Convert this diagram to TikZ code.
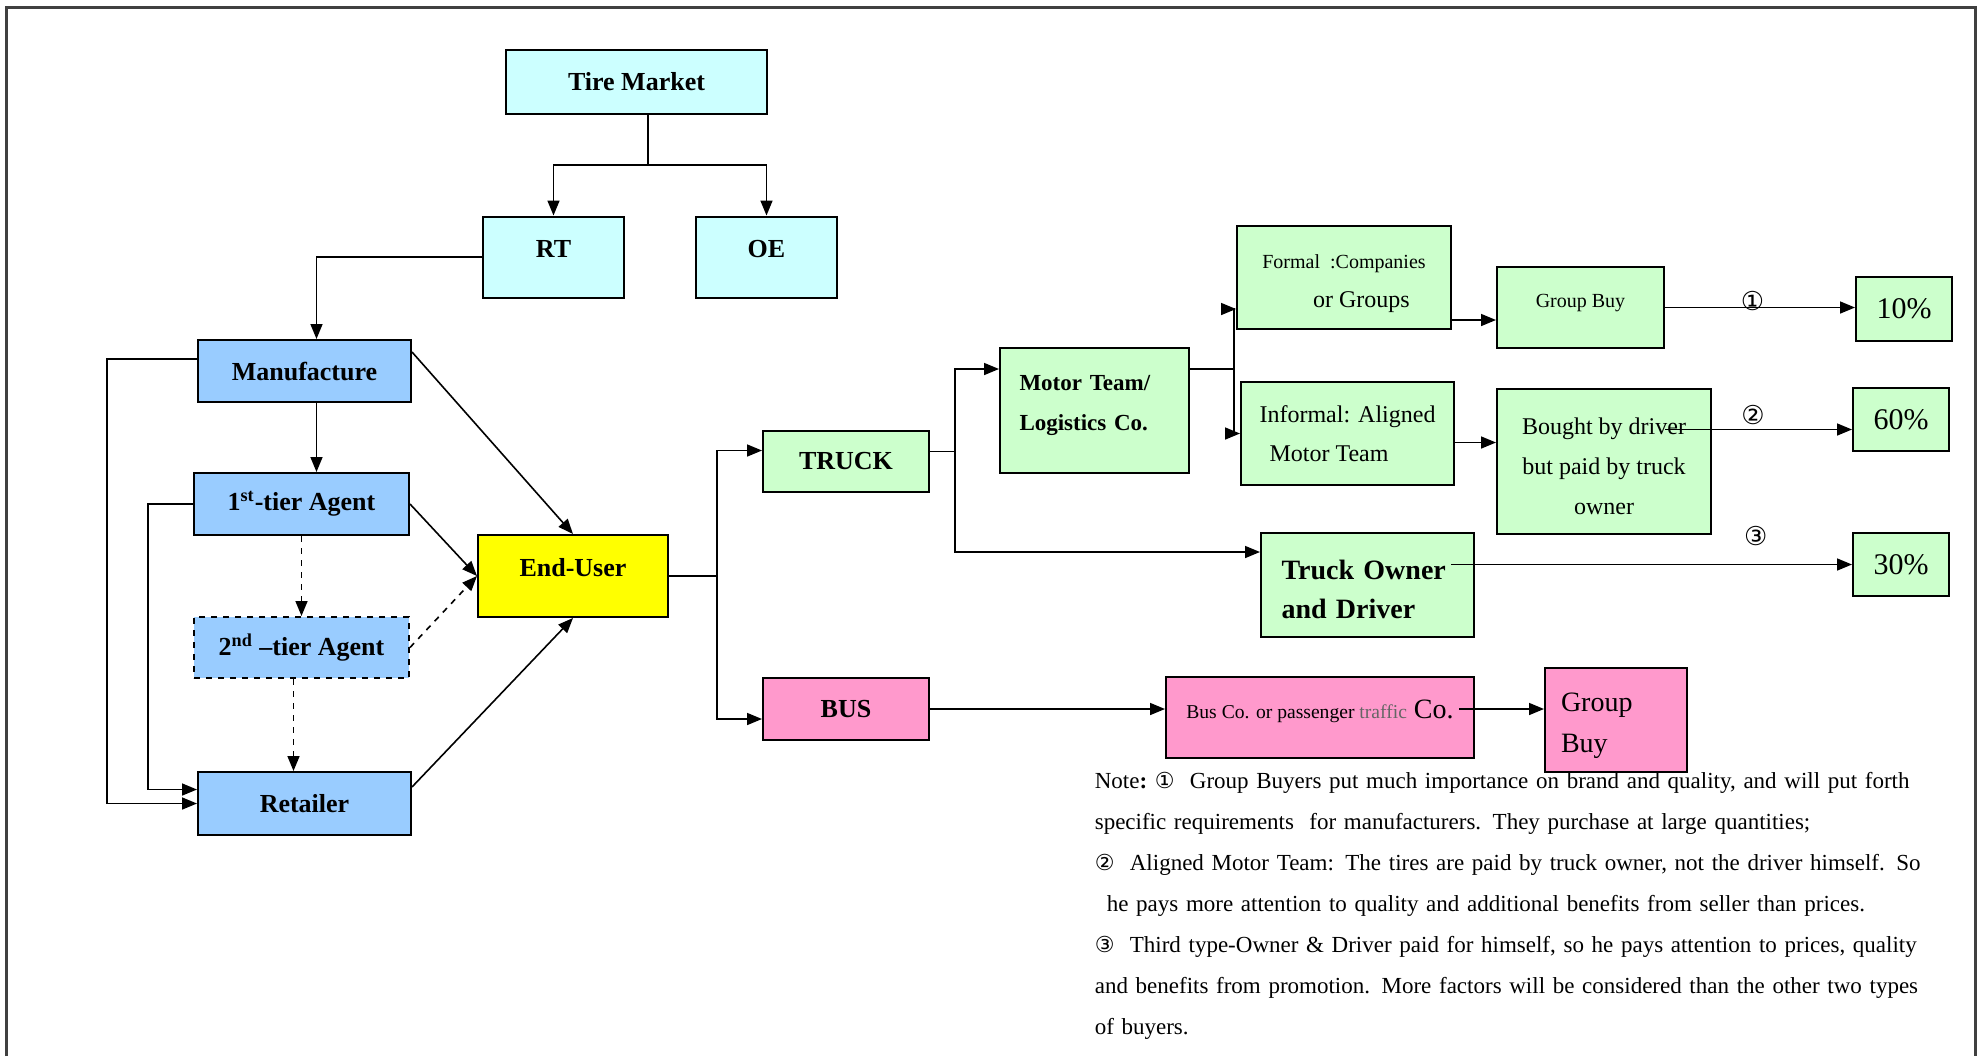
\documentclass[tikz,border=0pt]{standalone}
\usepackage{fontspec}
\setmainfont{Liberation Serif}
\newfontfamily\circfont{DejaVu Sans}
\usetikzlibrary{arrows.meta,calc}

\definecolor{marketcyan}{HTML}{CCFFFF}
\definecolor{chainblue}{HTML}{99CCFF}
\definecolor{useryellow}{HTML}{FFFF00}
\definecolor{truckgreen}{HTML}{CCFFCC}
\definecolor{buspink}{HTML}{FF99CC}
\definecolor{framegray}{HTML}{404040}

\newcommand{\fullline}[2][418.5pt]{\makebox[#1][s]{#2}}
\newcommand{\circnum}[1]{{\circfont\fontsize{11}{12}\selectfont #1}}

\begin{document}
\begin{tikzpicture}[x=0.5pt, y=-0.5pt, line width=0.8pt,
    >={Triangle[length=7.5pt,width=6pt]},
    box/.style={draw, rectangle, inner sep=0pt, line width=1pt},
    boldtext/.style={font=\fontsize{13}{15}\selectfont\bfseries},
    cyanbox/.style={box, boldtext, fill=marketcyan},
    bluebox/.style={box, boldtext, fill=chainblue},
    userbox/.style={box, boldtext, fill=useryellow},
    greenbox/.style={box, fill=truckgreen},
    pinkbox/.style={box, fill=buspink},
    raised/.style={text height=9pt, text depth=9pt},
    sharebox/.style={greenbox, font=\fontsize{15}{17}\selectfont,
        minimum width=48pt, minimum height=31.5pt},
    numlabel/.style={font=\circfont\fontsize{13}{15}\selectfont, inner sep=1pt},
    notetext/.style={font=\fontsize{11.5}{20.5}\selectfont, text width=418.5pt,
        align=left, inner sep=0pt}]

\useasboundingbox (0,0) rectangle (1977,1056);
% page frame
\draw[line width=1.5pt, framegray] (6,1056) -- (6,7) -- (1975,7) -- (1975,1056);

% market
\node[cyanbox, minimum width=130.5pt, minimum height=32pt] (market) at (636.5,82) {Tire Market};
\node[cyanbox, raised, minimum width=70.5pt, minimum height=40.5pt] (rt) at (553.5,257) {RT};
\node[cyanbox, raised, minimum width=70.5pt, minimum height=40.5pt] (oe) at (766.5,257) {OE};

% channel
\node[bluebox, minimum width=106.5pt, minimum height=31pt] (manu) at (304.5,371) {Manufacture};
\node[bluebox, minimum width=107.5pt, minimum height=31pt] (first) at (301.5,504)
    {1\textsuperscript{st}-tier Agent};
\node[bluebox, dashed, minimum width=107.5pt, minimum height=30.5pt] (second) at (301.5,647.5)
    {2\textsuperscript{nd} --tier Agent};
\node[bluebox, minimum width=106.5pt, minimum height=31.5pt] (retailer) at (304.5,803.5) {Retailer};
\node[userbox, raised, minimum width=95pt, minimum height=41pt] (eu) at (573,576) {End-User};

% truck side
\node[greenbox, boldtext, minimum width=83pt, minimum height=30.5pt] (truck) at (846,461.5) {TRUCK};
\node[greenbox, font=\fontsize{11.5}{20}\selectfont\bfseries, text width=75pt, align=left,
    minimum width=94.5pt, minimum height=62.5pt] (motor) at (1094.5,410.5)
    {Motor Team/\\Logistics Co.\rule[-8pt]{0pt}{8pt}};
\node[greenbox, font=\fontsize{12}{19.5}\selectfont, align=right,
    minimum width=107pt, minimum height=51.5pt] (formal) at (1344,277.5)
    {\rule{0pt}{13pt}{\fontsize{10}{19.5}\selectfont Formal\ \ :Companies}\\or Groups\hspace*{8pt}};
\node[greenbox, font=\fontsize{12}{19.5}\selectfont, align=left,
    minimum width=106.5pt, minimum height=51.5pt] (informal) at (1347.5,433.5)
    {Informal: Aligned\\\hspace*{5pt}Motor Team};
\node[greenbox, font=\fontsize{10}{12}\selectfont, text height=7pt, text depth=7.5pt,
    minimum width=83.5pt, minimum height=40.5pt] (gbuy) at (1580.5,307.5) {Group Buy};
\node[greenbox, font=\fontsize{12}{20}\selectfont, align=center,
    minimum width=107pt, minimum height=72.5pt] (bought) at (1604,461.5)
    {\rule{0pt}{13.5pt}Bought by driver\\but paid by truck\\owner};
\node[greenbox, font=\fontsize{14}{19.5}\selectfont\bfseries, text width=86pt, align=left,
    minimum width=106.5pt, minimum height=52pt] (towner) at (1367.5,585)
    {\rule{0pt}{14.6pt}\fullline[86pt]{Truck Owner}\\and Driver};
\node[sharebox, minimum height=32pt] (p10) at (1904,309) {10\%};
\node[sharebox] (p60) at (1901,419.5) {60\%};
\node[sharebox] (p30) at (1901,564.5) {30\%};

% bus side
\node[pinkbox, boldtext, minimum width=83pt, minimum height=31pt] (bus) at (846,709) {BUS};
\node[pinkbox, font=\fontsize{14}{16}\selectfont, text depth=8pt,
    minimum width=154pt, minimum height=40.5pt] (busco) at (1320,717.5)
    {{\fontsize{9.8}{11}\selectfont Bus Co. or passenger \textcolor{black!60}{traffic}} Co.};
\node[pinkbox, font=\fontsize{14}{20.5}\selectfont, text width=55pt, align=left,
    minimum width=71pt, minimum height=52pt] (gbpink) at (1616,720)
    {\rule{0pt}{15.5pt}Group\\Buy};

% note
\node[notetext, anchor=north west] (note) at (1094,771) {%
\fullline{Note\textbf{:}\ \circnum{①}\ \ Group Buyers put much importance on brand and quality, and will put forth}\\
specific requirements\ \ for manufacturers. They purchase at large quantities;\\
\fullline{\circnum{②}\ \ Aligned Motor Team: The tires are paid by truck owner, not the driver himself. So}\\
\hspace*{6pt}he pays more attention to quality and additional benefits from seller than prices.\\
\fullline{\circnum{③}\ \ Third type-Owner \& Driver paid for himself, so he pays attention to prices, quality}\\
\fullline{and benefits from promotion. More factors will be considered than the other two types}\\
of buyers.};

% market split
\coordinate (marketsplit) at (648,165);
\draw (market.south -| marketsplit) -- (marketsplit);
\draw[->] (marketsplit) -| (rt.north);
\draw[->] (marketsplit) -| (oe.north);

% channel links
\draw[->] (rt.west) -| ([xshift=6pt]manu.north);
\draw[->] ([xshift=6pt]manu.south) -- ($(manu.south |- first.north)+(6pt,0)$);
\draw[->] ([yshift=6pt]manu.west) -- ++(-45pt,0) |- (retailer.west);
\draw[->] (first.west) -- ++(-22.5pt,0) |- ([yshift=7pt]retailer.west);
\draw[->, dashed] (first.south) -- (second.north);
\draw[->, dashed] ([xshift=-4pt]second.south) -- ($(second.south |- retailer.north)+(-4pt,0)$);

% to end-user
\draw[->] ([yshift=-6.5pt]manu.north east) -- (eu.north);
\draw[->] (first.east) -- (eu.west);
\draw[->, dashed] (second.east) -- (eu.west);
\draw[->] ([yshift=-8pt]retailer.north east) -- (eu.south);

% end-user split
\coordinate (usersplit) at ($(eu.east)+(24pt,0)$);
\draw (eu.east) -- (usersplit);
\draw[->] (usersplit) |- ([yshift=5.5pt]truck.west);
\draw[->] (usersplit) |- ([yshift=-5pt]bus.west);

% truck split
\coordinate (trucksplit) at ($([yshift=5pt]truck.east)+(12.5pt,0)$);
\draw ([yshift=5pt]truck.east) -- (trucksplit);
\draw[->] (trucksplit) |- ([yshift=-11pt]motor.north west);
\draw[->] (trucksplit) |- ([yshift=-10pt]towner.north west);

% motor team split
\coordinate (motorsplit) at ($([yshift=-11pt]motor.north east)+(22pt,0)$);
\draw ([yshift=-11pt]motor.north east) -- (motorsplit);
\draw[->] (motorsplit) |- ([yshift=10.5pt]formal.south west);
\draw[->] (motorsplit) |- (informal.west);

% buyer shares
\draw[->] ([yshift=5pt]formal.south east) -- ($(formal.south east -| gbuy.west)+(0,5pt)$);
\draw[->] (gbuy.east) -- (gbuy.east -| p10.west)
    node[pos=0.46, above=-3pt, numlabel] {①};
\draw[->] ([yshift=-4.5pt]informal.east) -- ($(informal.east -| bought.west)+(0,-4.5pt)$);
\draw[->] ($(bought.east |- p60.west)+(-23.5pt,-5pt)$) -- ($(p60.west)+(0,-5pt)$)
    node[pos=0.47, above=1pt, numlabel] {②};
\draw[->] ($(towner.east |- p30.west)+(-12pt,0)$) -- (p30.west)
    node[pos=0.76, above=8pt, numlabel] {③};

% bus chain
\draw[->] (bus.east) -- (bus.east -| busco.west);
\draw[->] ($(bus.east -| busco.east)+(-8pt,0)$) -- (bus.east -| gbpink.west);

\end{tikzpicture}
\end{document}
